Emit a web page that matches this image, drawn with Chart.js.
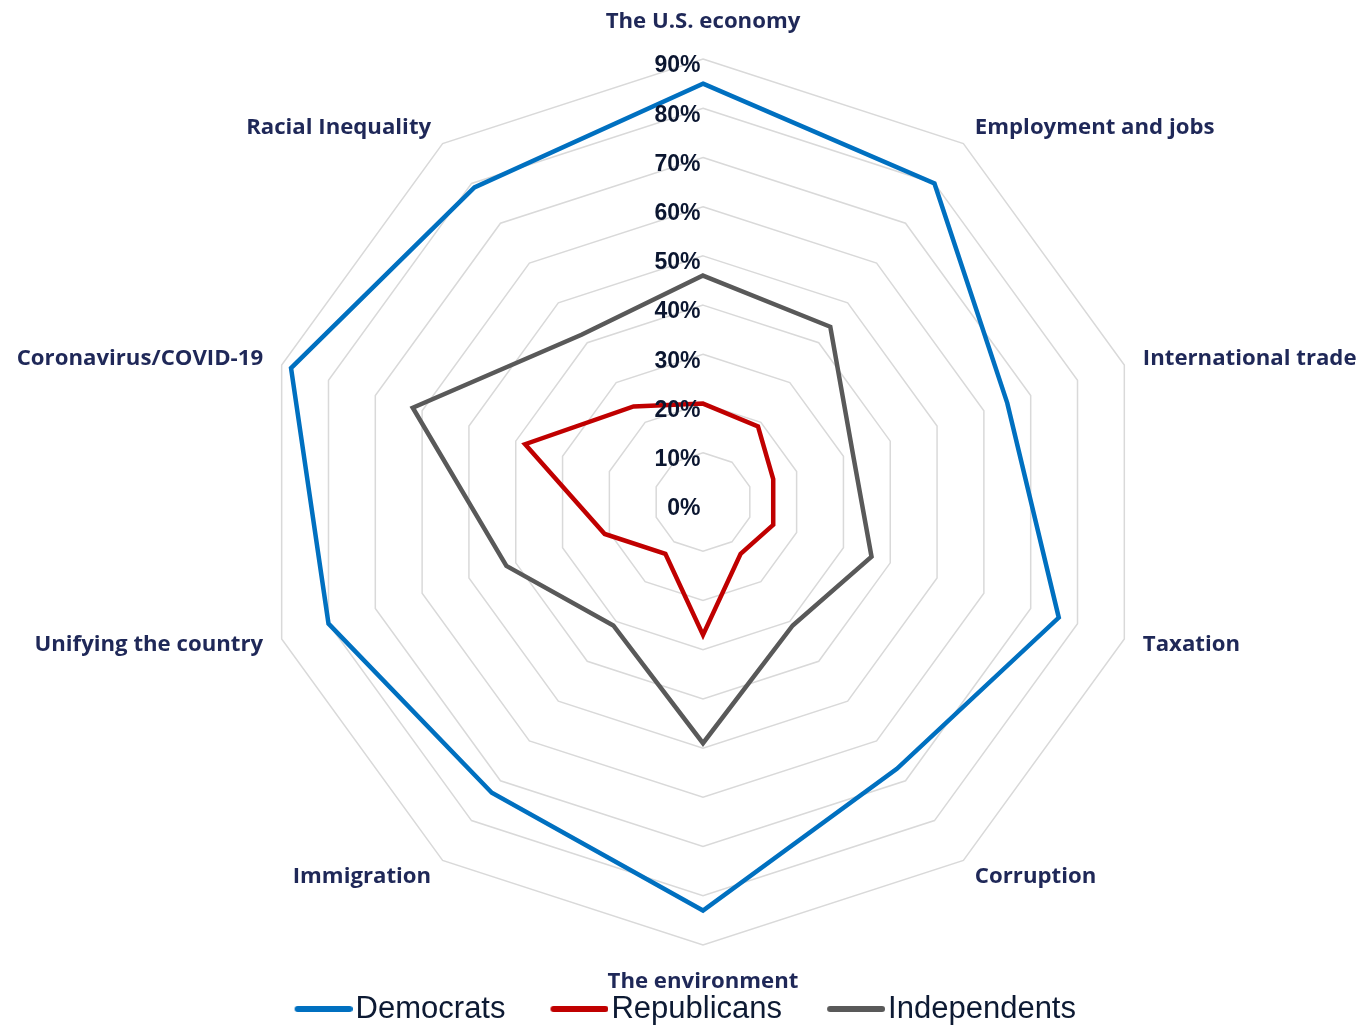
<!doctype html>
<html>
<head>
<meta charset="utf-8">
<script src="https://cdn.jsdelivr.net/npm/chart.js@4.4.1/dist/chart.umd.min.js"></script>
<style>
  html, body { margin: 0; padding: 0; background: #fff; overflow: hidden; }
  #wrap { width: 1358px; height: 1025px; position: relative; overflow: hidden; }
  /* canvas a bit wider than the page so the radar can sit right of centre */
  #myChart { position: absolute; left: -13px; top: 0; }
</style>
</head>
<body>
<div id="wrap"><canvas id="myChart" width="1432" height="1025"></canvas></div>
<script>
const categories = ['The U.S. economy', 'Employment and jobs', 'International trade', 'Taxation', 'Corruption',
  'The environment', 'Immigration', 'Unifying the country', 'Coronavirus/COVID-19', 'Racial Inequality'];
const democrats = [85, 80, 65, 76, 67, 83, 73, 80, 88, 79];
const republicans = [20, 19, 15, 15, 13, 27, 13, 21, 38, 24];
const independents = [46, 44, 32, 36, 31, 49, 31, 42, 62, 42];
const seriesNames = ['Democrats', 'Republicans', 'Independents'];
const seriesColors = ['#0070C0', '#C00000', '#595959'];
const axisMax = 90;
const axisStep = 10;

const labelFont = { family: 'Open Sans', weight: 'bold', size: 22.2, lineHeight: 0.01 };
const tickFont = { family: 'Liberation Sans', weight: 'bold', size: 23, lineHeight: '7px' };

// legend marker: thick line in a small canvas, transparent on the left
function legendLine(color) {
  const c = document.createElement('canvas');
  c.width = 104; c.height = 8;
  const g = c.getContext('2d');
  g.strokeStyle = color; g.lineWidth = 6; g.lineCap = 'round';
  g.beginPath(); g.moveTo(49, 4); g.lineTo(101, 4); g.stroke();
  return c;
}

const mc = document.createElement('canvas').getContext('2d');
function textW(str, font) { mc.font = font; return mc.measureText(str).width; }

// ticks are drawn centred on the axis; pad with spaces so they end just left of it
function tickLabel(v) {
  const t = v + '%';
  const f = 'bold 23px "Liberation Sans"';
  const n = Math.round((textW(t, f) + 6) / textW(' ', f));
  return ['', t + ' '.repeat(n)];
}

const pointLabelOpts = (color) => ({
  color: color,
  font: labelFont,
  padding: (ctx) => ctx.index === 0 ? 25.275 : ctx.index === 5 ? 25.265 : 8
});

const ctx = document.getElementById('myChart');
const chart = new Chart(ctx, {
  type: 'radar',
  data: {
    labels: categories,
    datasets: [democrats, republicans, independents].map((d, i) => ({
      label: seriesNames[i],
      data: d,
      rAxisID: 'r',
      borderColor: seriesColors[i],
      backgroundColor: seriesColors[i],
      borderWidth: 4.5,
      fill: false,
      pointRadius: 0,
      pointHoverRadius: 0,
      pointStyle: legendLine(seriesColors[i])
    }))
  },
  options: {
    responsive: false,
    animation: false,
    layout: { padding: { left: 0, right: 0, top: 22, bottom: -9.5 } },
    plugins: {
      tooltip: { enabled: false },
      legend: {
        position: 'bottom',
        labels: {
          usePointStyle: true,
          pointStyleWidth: 79,
          padding: 11.5,
          color: '#0D1A33',
          font: { family: 'Liberation Sans', size: 31 },
          generateLabels: (ch) => Chart.defaults.plugins.legend.labels.generateLabels(ch).map((it, i, arr) => {
            if (i === arr.length - 1) it.text = it.text + ' '.repeat(8);
            return it;
          })
        }
      }
    },
    scales: {
      r: {
        min: 0, max: axisMax,
        angleLines: { display: false },
        grid: { color: '#D9D9D9', lineWidth: 1.5 },
        pointLabels: pointLabelOpts('#1F2858'),
        ticks: { stepSize: axisStep, font: tickFont, color: 'rgba(0,0,0,0)', showLabelBackdrop: false, backdropPadding: 0 }
      },
      // same geometry, reversed, only used to print the % ticks (incl. 0% at the centre) on top
      r2: {
        type: 'radialLinear', reverse: true, min: 0, max: axisMax,
        angleLines: { display: false },
        grid: { display: false },
        pointLabels: pointLabelOpts('rgba(0,0,0,0)'),
        ticks: { z: 1, stepSize: axisStep, font: tickFont, color: '#0B1630', showLabelBackdrop: false, backdropPadding: 0,
          callback: (v) => tickLabel(axisMax - v) }
      }
    }
  }
});
</script>
</body>
</html>
